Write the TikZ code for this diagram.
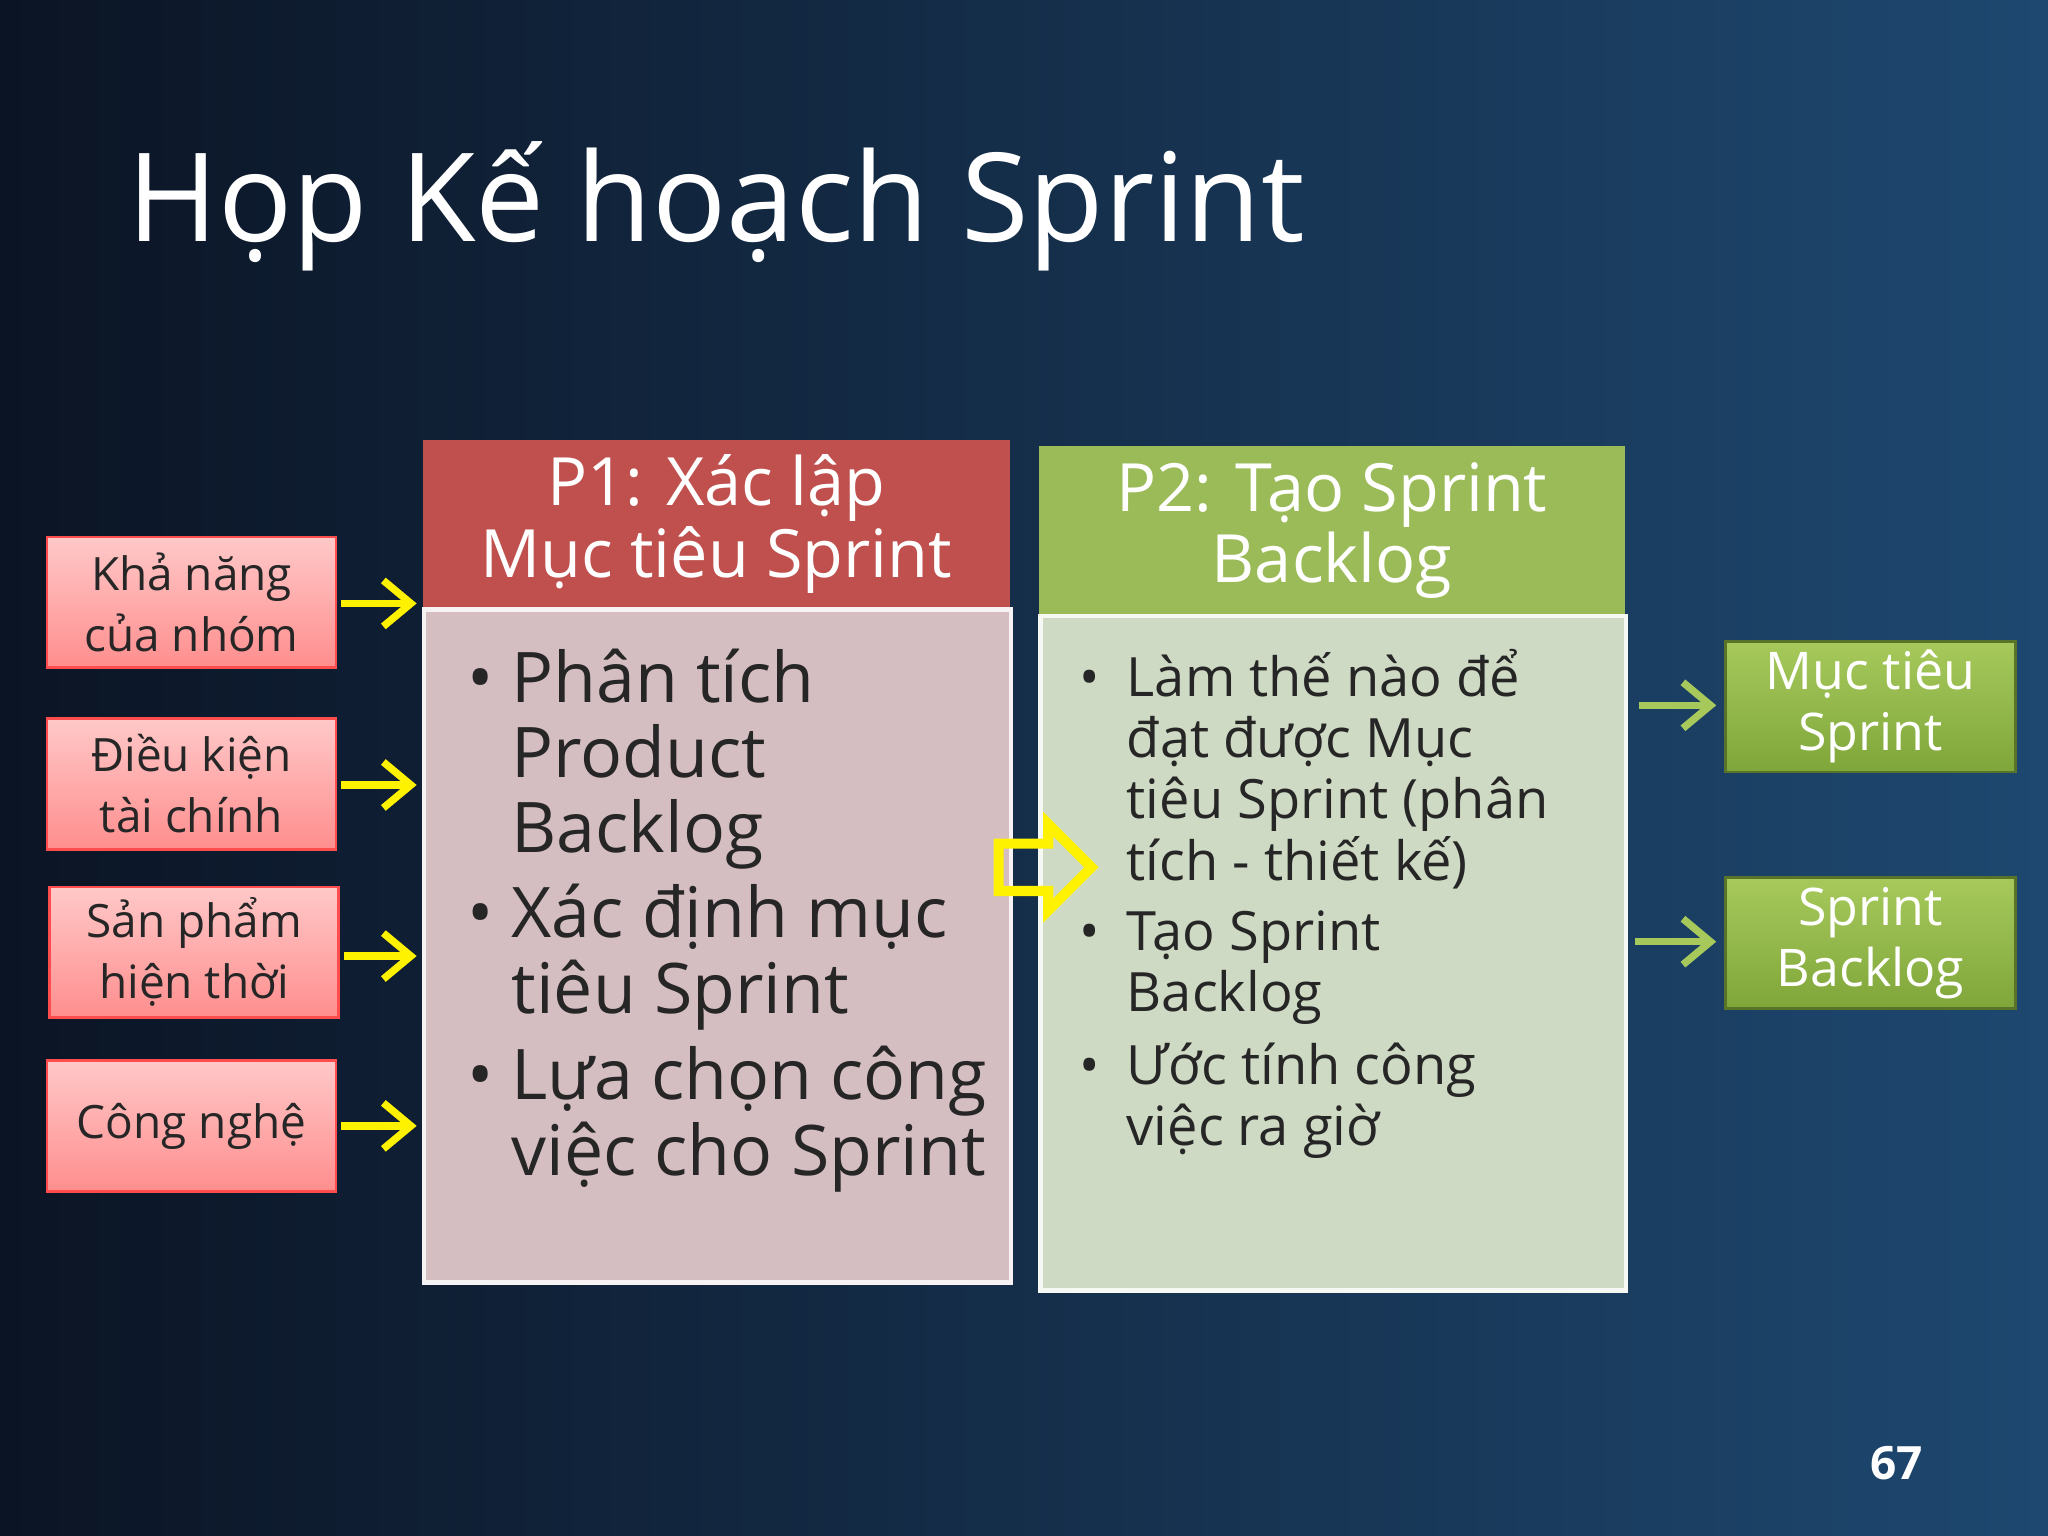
\documentclass[tikz,border=0pt]{standalone}
\usepackage{fontspec}
\setmainfont{Open Sans}
\usetikzlibrary{shapes.arrows,arrows.meta}
\definecolor{bgA}{HTML}{0B1424}
\definecolor{bgB}{HTML}{1E4870}
\definecolor{redH}{HTML}{C0504D}
\definecolor{redB}{HTML}{D5BEC1}
\definecolor{grnH}{HTML}{9BBB59}
\definecolor{grnB}{HTML}{CFDAC4}
\definecolor{pinkT}{HTML}{FFC8C8}
\definecolor{pinkB}{HTML}{FF8E8E}
\definecolor{gT}{HTML}{A7C95C}
\definecolor{gB}{HTML}{7FA63A}
\newcommand{\ml}[1]{\begin{tabular}[t]{@{}l@{}}#1\end{tabular}}
\tikzset{
 every node/.style={inner sep=0pt},
 hdr/.style={text=white,align=center,font=\fontsize{14.5}{15.5}\selectfont},
 bul/.style={anchor=base west,align=left,text=black!85},
 inbox/.style={draw=red!70!white,line width=0.6pt,top color=pinkT,bottom color=pinkB,align=center,font=\fontsize{10}{13.3}\selectfont,text=black!85,minimum width=22.1mm,minimum height=10mm},
 outbox/.style={draw=gB!70!black,line width=0.6pt,top color=gT,bottom color=gB,align=center,font=\fontsize{11.3}{13.3}\selectfont,text=white,minimum width=22.2mm,minimum height=10mm},
 yarr/.style={draw=yellow,line width=1.6pt,-{Straight Barb[length=6pt,width=10pt]}},
 garr/.style={draw=gT,line width=1.6pt,-{Straight Barb[length=6pt,width=10pt]}},
}
\begin{document}
\begin{tikzpicture}[x=0.01cm,y=-0.01cm]
\useasboundingbox (0,0) rectangle (1568,1176);
\shade[shading angle=45,left color=bgA,right color=bgB] (0,0) rectangle (1568,1176);
\node[anchor=base west,text=white,font=\fontsize{26.8}{30}\selectfont] (title) at (97,185) {Họp Kế hoạch Sprint};
% P1
\node[fill=redH,minimum width=44.9mm,minimum height=12.9mm,anchor=north west] (p1h) at (323,336) {};
\node[hdr] (p1t) at (p1h.center) {P1: Xác lập\\Mục tiêu Sprint};
\node[fill=redB,draw=white!80!redB,line width=1pt,minimum width=44.9mm,minimum height=51.5mm,anchor=north west] (p1b) at (323,465) {};
\begin{scope}[font=\fontsize{15.2}{16}\selectfont]
\node[bul] (b11) at (357,538) {•};
\node[bul] (t11) at (391,538) {\ml{Phân tích\\Product\\Backlog}};
\node[bul] (b12) at (357,718) {•};
\node[bul] (t12) at (391,718) {\ml{Xác định mục\\tiêu Sprint}};
\node[bul] (b13) at (357,842) {•};
\node[bul] (t13) at (391,842) {\ml{Lựa chọn công\\việc cho Sprint}};
\end{scope}
% P2
\node[fill=grnH,minimum width=44.8mm,minimum height=12.9mm,anchor=north west] (p2h) at (795,341) {};
\node[hdr] (p2t) at (p2h.center) {P2: Tạo Sprint\\Backlog};
\node[fill=grnB,draw=white!80!grnB,line width=1pt,minimum width=44.8mm,minimum height=51.6mm,anchor=north west] (p2b) at (795,470) {};
\begin{scope}[font=\fontsize{11.8}{13.3}\selectfont]
\node[bul] (b21) at (826,533) {•};
\node[bul] (t21) at (862,533) {\ml{Làm thế nào để\\đạt được Mục\\tiêu Sprint (phân\\tích - thiết kế)}};
\node[bul] (b22) at (826,728) {•};
\node[bul] (t22) at (862,728) {\ml{Tạo Sprint\\Backlog}};
\node[bul] (b23) at (826,830) {•};
\node[bul] (t23) at (862,830) {\ml{Ước tính công\\việc ra giờ}};
\end{scope}
% inputs
\node[inbox,anchor=north west] (i1) at (35,410) {Khả năng\\của nhóm};
\node[inbox,anchor=north west] (i2) at (35,549) {Điều kiện\\tài chính};
\node[inbox,anchor=north west] (i3) at (37,678) {Sản phẩm\\hiện thời};
\node[inbox,anchor=north west] (i4) at (35,811) {Công nghệ};
\coordinate (a1) at (319,462);
\coordinate (a2) at (319,601);
\coordinate (a3) at (319,732);
\coordinate (a4) at (319,862);
\draw[yarr] ([xshift=0.3mm]i1.east |- a1) -- (a1);
\draw[yarr] ([xshift=0.3mm]i2.east |- a2) -- (a2);
\draw[yarr] ([xshift=0.3mm]i3.east |- a3) -- (a3);
\draw[yarr] ([xshift=0.3mm]i4.east |- a4) -- (a4);
% block arrow
\node[single arrow,draw=yellow,line width=2.2pt,minimum height=7.1mm,minimum width=6.6mm,single arrow head extend=1.3mm,single arrow tip angle=90,inner sep=1.2mm] (mid) at (791,664) {};
% outputs
\node[outbox,anchor=north west] (o1) at (1320,490) {Mục tiêu\\Sprint};
\node[outbox,anchor=north west] (o2) at (1320,671) {Sprint\\Backlog};
\coordinate (g1) at (1255,540);
\coordinate (g2) at (1252,721);
\draw[garr] (g1) -- ([xshift=-0.6mm]o1.west |- g1);
\draw[garr] (g2) -- ([xshift=-0.6mm]o2.west |- g2);
\node[anchor=base east,text=white,font=\bfseries\fontsize{10}{10}\selectfont] (pg) at (1473,1133) {67};
\end{tikzpicture}
\end{document}
